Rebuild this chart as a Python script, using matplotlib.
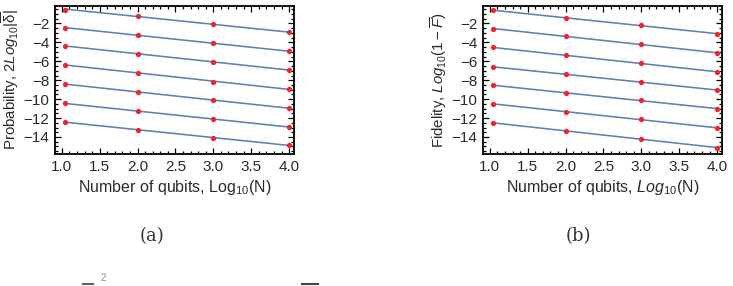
import numpy as np
import matplotlib
matplotlib.use("Agg")
import matplotlib.pyplot as plt
from matplotlib.ticker import MultipleLocator
from matplotlib.lines import Line2D

plt.rcParams['font.family'] = ['Liberation Sans', 'DejaVu Sans']
plt.rcParams['mathtext.fontset'] = 'custom'
plt.rcParams['mathtext.rm'] = 'Liberation Sans'
plt.rcParams['mathtext.it'] = 'Liberation Sans:italic'
plt.rcParams['mathtext.bf'] = 'Liberation Sans:bold'

# x positions: log10 of number of qubits
log_n = [1.041, 2.0, 3.0, 4.0]

# (a) probability, 2 log10 |delta|  (one row per curve)
prob = [
    [-0.53, -1.19, -2.07, -2.95],
    [-2.45, -3.23, -4.07, -4.95],
    [-4.39, -5.19, -6.03, -6.95],
    [-6.39, -7.19, -8.14, -8.95],
    [-8.39, -9.26, -10.10, -10.95],
    [-10.45, -11.26, -12.10, -12.95],
    [-12.42, -13.23, -14.10, -14.87],
]

# (b) fidelity, log10(1 - F)
fid = [
    [-0.62, -1.37, -2.21, -3.10],
    [-2.53, -3.37, -4.22, -5.10],
    [-4.53, -5.37, -6.22, -7.11],
    [-6.58, -7.37, -8.20, -9.04],
    [-8.51, -9.37, -10.13, -11.01],
    [-10.52, -11.33, -12.10, -13.08],
    [-12.52, -13.33, -14.24, -15.13],
]

x_ticks = [1.0, 1.5, 2.0, 2.5, 3.0, 3.5, 4.0]
y_ticks = [-2, -4, -6, -8, -10, -12, -14]

LINE_C = '#5E81B5'
PT_C = '#F0242A'

fig = plt.figure(figsize=(7.33, 2.86), dpi=100)
W, H = 733, 286

def make_ax(left_px, data, ylabel, xlabel):
    ax = fig.add_axes([left_px / W, 1 - 154 / H, 239 / W, 148 / H])
    x = np.array(log_n)
    for row in data:
        y = np.array(row)
        k, b = np.polyfit(x, y, 1)
        xs = np.array([x[0], x[-1]])
        ax.plot(xs, k * xs + b, color=LINE_C, lw=1.15, zorder=2)
        ax.plot(x, y, 'o', color=PT_C, ms=3.8, mec='none', zorder=3)
    ax.set_xlim(0.91, 4.065)
    ax.set_ylim(-15.8, -0.15)
    ax.set_xticks(x_ticks)
    ax.set_xticklabels([f"{t:.1f}" for t in x_ticks])
    ax.set_yticks(y_ticks)
    ax.set_yticklabels([f"\u2212{abs(t)}" for t in y_ticks])
    ax.xaxis.set_minor_locator(MultipleLocator(0.1))
    ax.yaxis.set_minor_locator(MultipleLocator(0.5))
    ax.tick_params(which='both', direction='in', top=True, right=True,
                   color='black', labelcolor='#2a2a2a', labelsize=11)
    ax.tick_params(which='major', length=4, width=0.9, pad=4)
    ax.tick_params(which='minor', length=2, width=0.9)
    for s in ax.spines.values():
        s.set_linewidth(1.3)
    ax.set_xlabel(xlabel, fontsize=11.5, color='#2a2a2a', labelpad=3)
    ax.set_ylabel(ylabel, fontsize=10.8, color='#2a2a2a', labelpad=2)
    return ax

make_ax(55, prob,
        r"Probability, $\mathit{2Log}_{10}|\overline{\mathrm{\delta}}|$",
        r"Number of qubits, $\mathrm{Log}_{10}(\mathrm{N})$")
make_ax(483, fid,
        r"Fidelity, $\mathit{Log}_{10}\mathit{(1-}\overline{F}\mathit{)}$",
        r"Number of qubits, $\mathit{Log}_{10}\mathrm{(N)}$")

fig.text(152 / W, 1 - 236 / H, "(a)", ha='center', va='center',
         fontsize=13, family='DejaVu Serif', color='#333333')
fig.text(578 / W, 1 - 236 / H, "(b)", ha='center', va='center',
         fontsize=13, family='DejaVu Serif', color='#333333')

# clipped fragments of the caption below
fig.add_artist(Line2D([83 / W, 93 / W], [1 - 283.5 / H] * 2, color='#666666', lw=1.5))
fig.add_artist(Line2D([302 / W, 318 / W], [1 - 283.5 / H] * 2, color='#444444', lw=1.5))
fig.text(103 / W, 1 - 283 / H, "2", ha='center', va='bottom', fontsize=7, color='#888888')

fig.savefig("out.png", dpi=100)
